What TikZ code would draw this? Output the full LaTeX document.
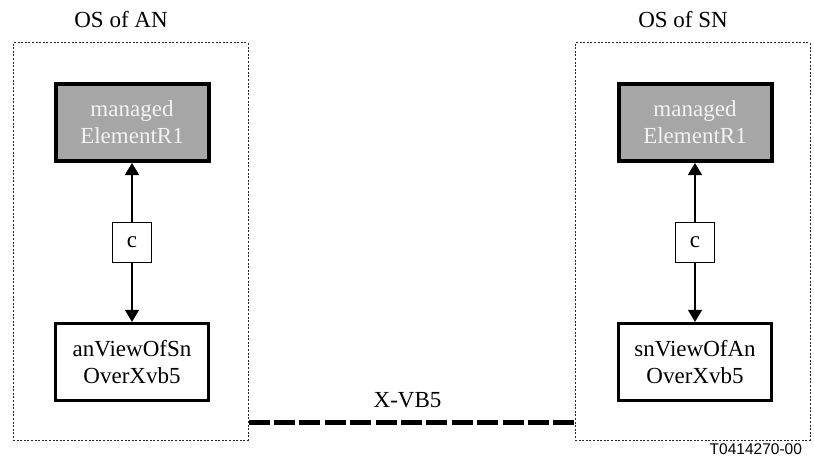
\documentclass[tikz,border=0pt]{standalone}
\usepackage{fontspec}
\setmainfont{Liberation Serif}
\newfontfamily\tagfont{Liberation Sans}
\usetikzlibrary{positioning,arrows.meta}
\definecolor{moshade}{HTML}{A6A6A6}
\definecolor{motext}{HTML}{F2F2F2}

\begin{document}
\begin{tikzpicture}[
    x=0.5pt, y=-0.5pt,
    every node/.style={font=\fontsize{11.5}{13.5}\selectfont},
    osbox/.style={rectangle, draw=black!85, line width=0.5pt, dash pattern=on 1pt off 0.8pt, minimum width=117.5pt, minimum height=198.5pt},
    mobox/.style={rectangle, draw=black, fill=moshade, text=motext, line width=2pt, align=center, minimum width=76.5pt, minimum height=38.5pt, inner sep=0pt},
    viewbox/.style={rectangle, draw=black, line width=1.6pt, align=center, minimum width=76.5pt, minimum height=38.5pt, inner sep=0pt},
    cbox/.style={rectangle, draw=black, line width=0.5pt, minimum width=19.5pt, minimum height=20pt, inner sep=0pt},
    relarrow/.style={-{Triangle[width=7pt,length=6pt]}, line width=0.6pt},
    xlink/.style={line width=2.5pt, dash pattern=on 10.5pt off 2.2pt}
]
    \useasboundingbox (0,0) rectangle (814,465);

    % Operations systems, left and right
    \node[osbox] (osAN) at (130.5,241.5) {};
    \node[osbox] (osSN) at (692.5,241.5) {};
    \node (titleAN) at (121,19.5) {OS of AN};
    \node (titleSN) at (683,19.5) {OS of SN};

    % Left side
    \node[mobox] (meAN) at (132,122.5) {managed\\ElementR1};
    \node[cbox] (cAN) at (132,242) {c};
    \node[viewbox] (viewAN) at (132,362) {anViewOfSn\\OverXvb5};
    \draw[relarrow] (cAN) -- (meAN);
    \draw[relarrow] (cAN) -- (viewAN);

    % Right side
    \node[mobox] (meSN) at (695,122.5) {managed\\ElementR1};
    \node[cbox] (cSN) at (695,242) {c};
    \node[viewbox] (viewSN) at (695,362) {snViewOfAn\\OverXvb5};
    \draw[relarrow] (cSN) -- (meSN);
    \draw[relarrow] (cSN) -- (viewSN);

    % X-VB5 link between the two OSs
    \draw[xlink] ([yshift=9pt]osAN.south east) -- ([yshift=9pt]osSN.south west);
    \node (xvb) at (407.5,400) {X-VB5};

    \node[font=\tagfont\fontsize{7.75}{9}\selectfont, anchor=east] (figtag) at (809,449) {T0414270-00};
\end{tikzpicture}
\end{document}
